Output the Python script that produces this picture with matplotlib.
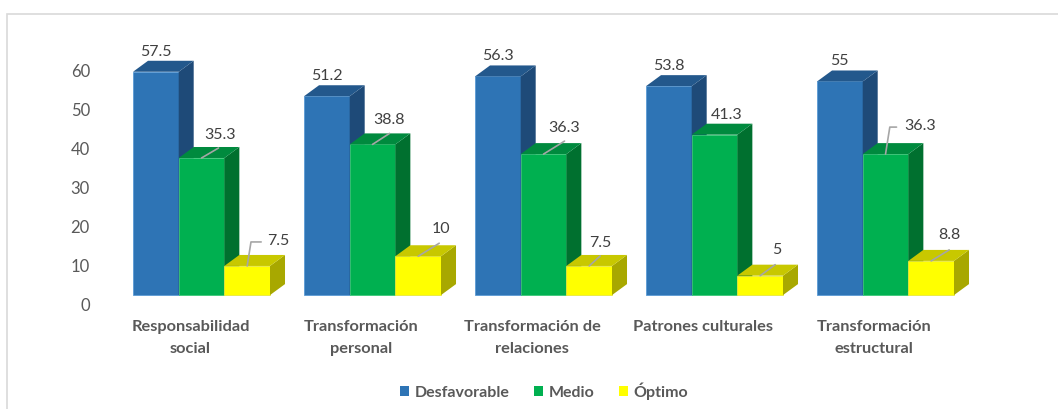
import matplotlib
matplotlib.use("Agg")
import matplotlib.pyplot as plt
from matplotlib.patches import Polygon, Patch, Rectangle
import numpy as np

# ---------------- data ----------------
categories = ["Responsabilidad\nsocial", "Transformación\npersonal",
              "Transformación de\nrelaciones", "Patrones culturales",
              "Transformación\nestructural"]
series_names = ["Desfavorable", "Medio", "Óptimo"]
desfavorable = [57.5, 51.2, 56.3, 53.8, 55]
medio = [35.3, 38.8, 36.3, 41.3, 36.3]
optimo = [7.5, 10, 7.5, 5, 8.8]
value_labels = [["57.5", "51.2", "56.3", "53.8", "55"],
                ["35.3", "38.8", "36.3", "41.3", "36.3"],
                ["7.5", "10", "7.5", "5", "8.8"]]
y_ticks = [0, 10, 20, 30, 40, 50, 60]

# ---------------- style ----------------
plt.rcParams['font.family'] = ['Lato', 'DejaVu Sans']
front = ['#2E74B5', '#00B050', '#FFFF00']
top = ['#23588C', '#008A3E', '#C8C800']
side = ['#1E4A78', '#00702F', '#A8A800']
edge = ['#5B9BD5', '#3CC878', '#E8E840']
TXT = '#595959'
VAL = '#404040'
W = 0.267        # bar width (group spacing = 1)
DX = 0.0877      # depth offset x (data units)
DY = 2.83        # depth offset y (data units)
BASE = 2.3       # floor offset of the 3D bars

# label offsets in pixels (dx, dy) per series / group
lab_off = [[(0, 20)] * 5,
           [(18, 23), (16, 24), (21, 26), (12, 20), (35, 28)],
           [(31, 25), (23, 27), (11, 23), (17, 26), (18, 26)]]
# leader lines: None, ('d', end) diagonal, ('b', end) bracket
leaders = [[None] * 5,
           [('d', (17, 10)), ('d', (17, 11)), ('d', (21, 13)), None, ('b', (11, 27))],
           [('b', (14, 24)), ('d', (21, 13)), ('d', (11, 10)), ('d', (15, 11)), ('d', (18, 11))]]

fig = plt.figure(figsize=(10.58, 4.09), dpi=100)
# chart border
fig.add_artist(Rectangle((7 / 1058, -0.1), 1.2, 1.1 - 14 / 409,
                         transform=fig.transFigure, fill=False,
                         edgecolor='#D9D9D9', linewidth=1.2))

ax = fig.add_axes([0.0935, 0.2472, 0.8647, 0.6362])
ax.set_xlim(-0.6, 4.75)
ax.set_ylim(-1, 66)

x = np.arange(len(categories))
all_series = [desfavorable, medio, optimo]
for j, vals in enumerate(all_series):
    xs = x + (j - 1) * W
    z = 2 + j
    ax.bar(xs, vals, width=W, bottom=BASE, color=front[j],
           edgecolor=edge[j], linewidth=0.6, zorder=z)
    for xi, v in zip(xs, vals):
        l, r = xi - W / 2, xi + W / 2
        t = BASE + v
        ax.add_patch(Polygon([(r, BASE), (r + DX, BASE + DY), (r + DX, t + DY), (r, t)],
                             closed=True, facecolor=side[j], edgecolor='none', zorder=z))
        ax.add_patch(Polygon([(l, t), (l + DX, t + DY), (r + DX, t + DY), (r, t)],
                             closed=True, facecolor=top[j], edgecolor='none', zorder=z))
    for i, (xi, v) in enumerate(zip(xs, vals)):
        anchor = (xi, BASE + v)
        ax.annotate(value_labels[j][i], xy=anchor, xytext=lab_off[j][i],
                    textcoords='offset pixels', ha='center', va='center',
                    fontsize=11.5, color=VAL, zorder=10)
        ld = leaders[j][i]
        if ld is not None:
            kind, end = ld
            cs = "arc3" if kind == 'd' else "angle,angleA=0,angleB=81,rad=0"
            ax.annotate('', xy=anchor, xytext=end, textcoords='offset pixels',
                        arrowprops=dict(arrowstyle='-', color='#A6A6A6', lw=1.2,
                                        shrinkA=0, shrinkB=0, connectionstyle=cs),
                        zorder=10)

# category labels
for xi, c in zip(x, categories):
    ax.text(xi - 0.065, -4.2, c, ha='center', va='top', fontsize=11.8,
            fontweight='bold', color=TXT, linespacing=1.7, clip_on=False)

ax.set_xticks([])
ax.set_yticks(y_ticks)
ax.tick_params(axis='y', length=0, pad=6.5, labelsize=12, labelcolor=TXT)
for s in ax.spines.values():
    s.set_visible(False)
ax.patch.set_alpha(0)

handles = [Patch(facecolor=front[k], edgecolor='none') for k in range(3)]
leg = fig.legend(handles, series_names, loc='center',
                 bbox_to_anchor=(544 / 1058, 1 - 391 / 409), ncol=3, frameon=False,
                 handlelength=0.6, handleheight=0.6, handletextpad=0.35,
                 columnspacing=1.5, prop={'size': 11.5, 'weight': 'bold'})
for t in leg.get_texts():
    t.set_color(TXT)

fig.savefig('out.png', dpi=100)
